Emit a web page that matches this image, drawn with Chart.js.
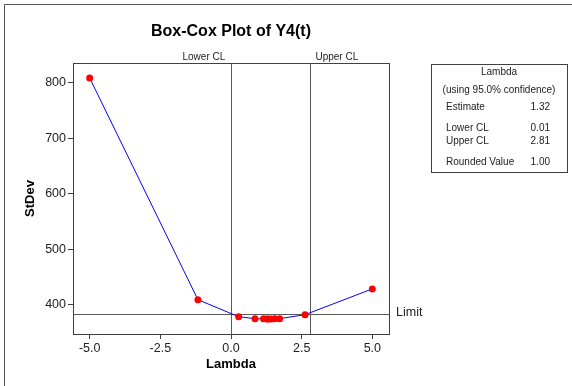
<!DOCTYPE html>
<html>
<head>
<meta charset="utf-8">
<script src="https://cdn.jsdelivr.net/npm/chart.js@4.4.1/dist/chart.umd.min.js"></script>
<style>
    html, body { margin: 0; padding: 0; background: #ffffff; }
    #wrap { width: 572px; height: 386px; position: relative; }
</style>
</head>
<body>
<div id="wrap"><canvas id="boxCox"></canvas></div>
<script>
// Box-Cox curve values
const lambdaValues = [-5.0, -1.17, 0.27, 0.85, 1.15, 1.27, 1.32, 1.42, 1.55, 1.72, 2.62, 5.0];
const stdevValues = [808.5, 409, 378.4, 374.8, 374.5, 374.4, 374.4, 374.4, 374.5, 374.8, 382, 428.5];

const xTicks = [-5, -2.5, 0, 2.5, 5];
const yTicks = [400, 500, 600, 700, 800];

const lowerCL = 0.01;
const upperCL = 2.81;
const limitValue = 383.2;

const legendRows = [
    ['Estimate', '1.32'],
    ['Lower CL', '0.01'],
    ['Upper CL', '2.81'],
    ['Rounded Value', '1.00']
];

const FONT = "'Liberation Sans', Arial, sans-serif";

// Reference lines, labels, frame and the info box
const annotations = {
    id: 'annotations',
    beforeDatasetsDraw(chart) {
        const { ctx, chartArea: a, scales: { x, y } } = chart;
        ctx.save();
        ctx.strokeStyle = '#5a5a5a';
        ctx.lineWidth = 1;

        // CL lines
        [lowerCL, upperCL].forEach(v => {
            const px = Math.round(x.getPixelForValue(v)) + 0.5;
            ctx.beginPath();
            ctx.moveTo(px, a.top);
            ctx.lineTo(px, a.bottom);
            ctx.stroke();
        });

        // limit line
        const py = Math.round(y.getPixelForValue(limitValue)) + 0.5;
        ctx.beginPath();
        ctx.moveTo(a.left, py);
        ctx.lineTo(a.right, py);
        ctx.stroke();
        ctx.restore();
    },
    afterDraw(chart) {
        const { ctx, chartArea: a, scales: { x, y } } = chart;
        ctx.save();

        // outer frame (left + top edge)
        ctx.strokeStyle = '#555555';
        ctx.lineWidth = 1;
        ctx.beginPath();
        ctx.moveTo(4.5, 386);
        ctx.lineTo(4.5, 4.5);
        ctx.lineTo(572, 4.5);
        ctx.stroke();

        // plot frame
        ctx.strokeStyle = '#404040';
        ctx.strokeRect(Math.round(a.left) + 0.5, Math.round(a.top) + 0.5,
            Math.round(a.right - a.left), Math.round(a.bottom - a.top));

        // title
        ctx.fillStyle = '#000000';
        ctx.textAlign = 'center';
        ctx.textBaseline = 'middle';
        ctx.font = 'bold 16px ' + FONT;
        ctx.fillText('Box-Cox Plot of Y4(t)', (a.left + a.right) / 2, 32);

        // CL labels
        ctx.fillStyle = '#222222';
        ctx.font = '10px ' + FONT;
        ctx.textAlign = 'right';
        ctx.fillText('Lower CL', x.getPixelForValue(lowerCL) - 6, 57);
        ctx.textAlign = 'left';
        ctx.fillText('Upper CL', x.getPixelForValue(upperCL) + 5, 57);

        // limit label
        ctx.font = '12.5px ' + FONT;
        ctx.fillText('Limit', a.right + 7, y.getPixelForValue(limitValue) - 1);

        // axis titles
        ctx.fillStyle = '#000000';
        ctx.font = 'bold 13px ' + FONT;
        ctx.textAlign = 'center';
        ctx.fillText('Lambda', (a.left + a.right) / 2, 364);
        ctx.save();
        ctx.translate(30, (a.top + a.bottom) / 2);
        ctx.rotate(-Math.PI / 2);
        ctx.fillText('StDev', 0, 0);
        ctx.restore();

        // info box
        const bx = 431, by = 64, bw = 136, bh = 108;
        ctx.strokeStyle = '#404040';
        ctx.strokeRect(bx + 0.5, by + 0.5, bw, bh);
        ctx.fillStyle = '#222222';
        ctx.font = '10px ' + FONT;
        ctx.textAlign = 'center';
        ctx.fillText('Lambda', bx + bw / 2, 72);
        ctx.fillText('(using 95.0% confidence)', bx + bw / 2, 90);
        const rowY = [107, 128, 141, 162];
        legendRows.forEach((row, i) => {
            ctx.textAlign = 'left';
            ctx.fillText(row[0], 446, rowY[i]);
            ctx.textAlign = 'right';
            ctx.fillText(row[1], 550, rowY[i]);
        });

        ctx.restore();
    }
};

new Chart(document.getElementById('boxCox'), {
    type: 'scatter',
    data: {
        datasets: [{
            data: lambdaValues.map((v, i) => ({ x: v, y: stdevValues[i] })),
            showLine: true,
            borderColor: '#0000ff',
            borderWidth: 1,
            pointBackgroundColor: '#ff0000',
            pointBorderColor: '#ff0000',
            pointRadius: 3.5,
            pointBorderWidth: 0,
            tension: 0
        }]
    },
    options: {
        responsive: true,
        maintainAspectRatio: false,
        animation: false,
        events: [],
        layout: {
            padding: { left: 0, top: 63, right: 183, bottom: 0 }
        },
        plugins: {
            legend: { display: false },
            tooltip: { enabled: false }
        },
        scales: {
            x: {
                type: 'linear',
                min: -5.59,
                max: 5.59,
                afterBuildTicks: s => { s.ticks = xTicks.map(v => ({ value: v })); },
                afterFit: s => { s.height = 52; },
                grid: {
                    drawOnChartArea: false,
                    drawTicks: true,
                    tickLength: 5,
                    color: '#404040'
                },
                border: { display: false },
                ticks: {
                    padding: 2,
                    color: '#222222',
                    font: { family: FONT, size: 12.5 },
                    callback: v => v.toFixed(1)
                }
            },
            y: {
                type: 'linear',
                min: 347.2,
                max: 835.5,
                afterBuildTicks: s => { s.ticks = yTicks.map(v => ({ value: v })); },
                afterFit: s => { s.width = 73; },
                grid: {
                    drawOnChartArea: false,
                    drawTicks: true,
                    tickLength: 5,
                    color: '#404040'
                },
                border: { display: false },
                ticks: {
                    padding: 2,
                    color: '#222222',
                    font: { family: FONT, size: 12.5 },
                    callback: v => String(v)
                }
            }
        }
    },
    plugins: [annotations]
});
</script>
</body>
</html>
